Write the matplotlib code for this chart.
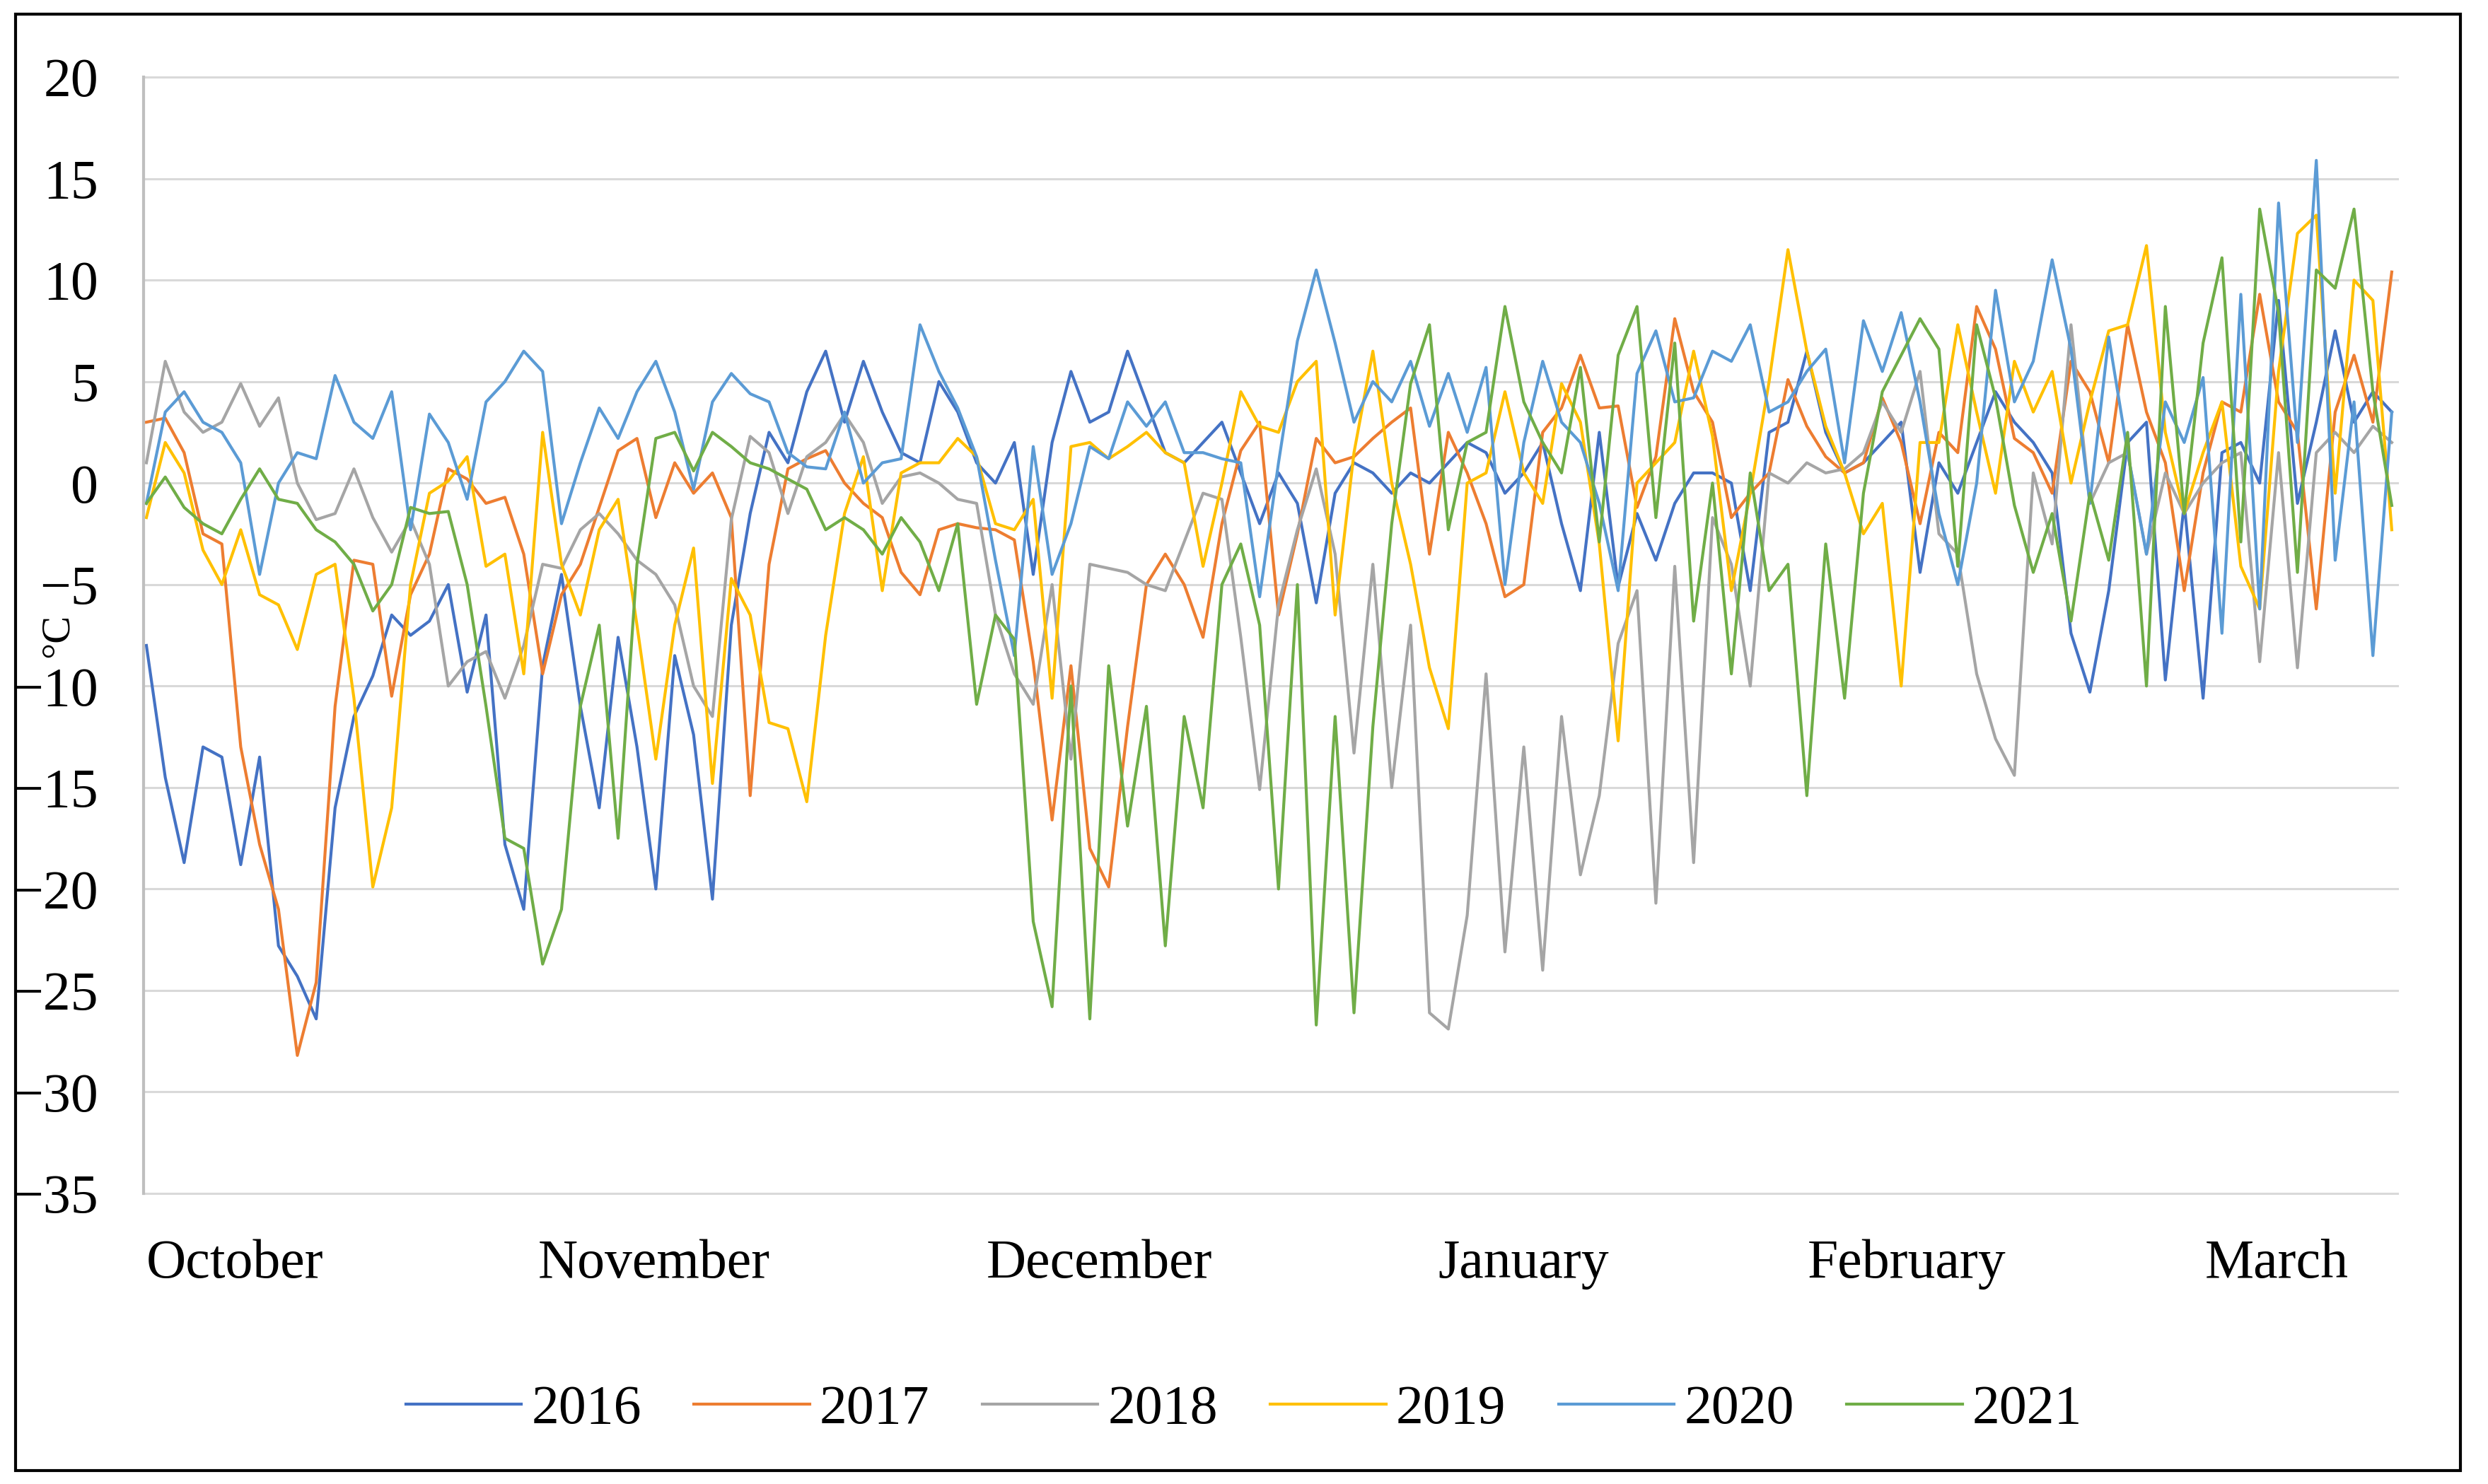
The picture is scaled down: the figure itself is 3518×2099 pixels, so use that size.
import numpy as np
import matplotlib
matplotlib.use('Agg')
import matplotlib.pyplot as plt
from matplotlib.patches import Rectangle

plt.rcParams['font.family'] = ['Liberation Serif', 'DejaVu Serif']

years = ['2016', '2017', '2018', '2019', '2020', '2021']
colors = ['#4472C4', '#ED7D31', '#A5A5A5', '#FFC000', '#5B9BD5', '#70AD47']
months = ['October', 'November', 'December', 'January', 'February', 'March']
month_pos = [4.7, 26.9, 50.5, 73.0, 93.3, 112.9]

# temperature, degC (~1.5 day steps, Oct -> Mar)
y2016 = [-8, -14.5, -18.7, -13, -13.5, -18.8, -13.5, -22.8, -24.3, -26.4,
         -16, -11.5, -9.5, -6.5, -7.5, -6.8, -5, -10.3, -6.5, -17.8,
         -21, -9, -4.5, -11, -16, -7.6, -13, -20, -8.5, -12.4,
         -20.5, -7, -1.5, 2.5, 1, 4.5, 6.5, 3, 6, 3.5,
         1.5, 1, 5, 3.5, 1, 0, 2, -4.5, 2, 5.5,
         3, 3.5, 6.5, 4, 1.5, 1, 2, 3, 0.5, -2,
         0.5, -1, -5.9, -0.5, 1, 0.5, -0.5, 0.5, 0, 1,
         2, 1.5, -0.5, 0.5, 2, -2, -5.3, 2.5, -5.1, -1.5,
         -3.8, -1, 0.5, 0.5, 0, -5.3, 2.5, 3, 6.5, 2.5,
         0.5, 1, 2, 3, -4.4, 1, -0.5, 2, 4.5, 3,
         2, 0.5, -7.4, -10.3, -5.3, 2, 3, -9.7, -1, -10.6,
         1.5, 2, 0, 9, -1, 3, 7.5, 3, 4.5, 3.5]

y2017 = [3, 3.2, 1.5, -2.5, -3, -13, -17.8, -21, -28.2, -24.6,
         -11, -3.8, -4, -10.5, -5.5, -3.5, 0.7, 0.2, -1, -0.7,
         -3.5, -9.4, -5.5, -4, -1.2, 1.6, 2.2, -1.7, 1, -0.5,
         0.5, -1.7, -15.4, -4, 0.7, 1.2, 1.6, 0, -1, -1.7,
         -4.4, -5.5, -2.3, -2, -2.2, -2.3, -2.8, -8.8, -16.6, -9,
         -18, -19.9, -12, -5, -3.5, -5, -7.6, -2, 1.6, 3,
         -6.5, -2.5, 2.2, 1, 1.3, 2.2, 3, 3.7, -3.5, 2.5,
         0.5, -2, -5.6, -5, 2.5, 3.7, 6.3, 3.7, 3.8, -1.2,
         1.3, 8.1, 4.5, 3, -1.7, -0.5, 0.5, 5.1, 2.8, 1.3,
         0.5, 1, 4.2, 2, -2, 2.5, 1.5, 8.7, 6.6, 2.2,
         1.5, -0.5, 6, 4.5, 1, 7.8, 3.5, 1, -5.3, 0.5,
         4, 3.5, 9.3, 4, 2.5, -6.2, 3.5, 6.3, 3, 10.4]

y2018 = [1, 6, 3.5, 2.5, 3, 4.9, 2.8, 4.2, 0, -1.8,
         -1.5, 0.7, -1.7, -3.4, -1.8, -4, -10, -8.8, -8.3, -10.6,
         -8, -4, -4.2, -2.3, -1.5, -2.5, -3.8, -4.5, -6, -10,
         -11.5, -1.8, 2.3, 1.5, -1.5, 1.3, 2, 3.4, 2, -1,
         0.3, 0.5, 0, -0.8, -1, -6.5, -9.4, -10.9, -5, -13.6,
         -4, -4.2, -4.4, -5, -5.3, -2.9, -0.5, -0.8, -7.6, -15.1,
         -6, -2.3, 0.7, -3.5, -13.3, -4, -15, -7, -26.1, -26.9,
         -21.3, -9.4, -23.1, -13, -24, -11.5, -19.3, -15.4, -7.9, -5.3,
         -20.7, -4.1, -18.7, -1.7, -4, -10, 0.5, 0, 1, 0.5,
         0.7, 1.5, 4, 2.5, 5.5, -2.5, -3.5, -9.4, -12.6, -14.4,
         0.5, -3, 7.8, -1, 1, 1.5, -3.5, 0.5, -1.5, 0,
         1, 1.5, -8.8, 1.5, -9.1, 1.5, 2.5, 1.5, 2.8, 2]

y2019 = [-1.7, 2, 0.5, -3.3, -5, -2.3, -5.5, -6, -8.2, -4.5,
         -4, -10.6, -19.9, -16, -5, -0.5, 0.1, 1.3, -4.1, -3.5,
         -9.4, 2.5, -4, -6.5, -2.3, -0.8, -7, -13.6, -7, -3.2,
         -14.8, -4.7, -6.5, -11.8, -12.1, -15.7, -7.5, -1.5, 1.3, -5.3,
         0.5, 1, 1, 2.2, 1.3, -2, -2.3, -0.8, -10.6, 1.8,
         2, 1.2, 1.8, 2.5, 1.5, 1, -4.1, 0, 4.5, 2.8,
         2.5, 5, 6, -6.5, 1.5, 6.5, 0, -4, -9.1, -12.1,
         0, 0.5, 4.5, 0.5, -1, 4.9, 3, -3, -12.7, 0,
         1, 2, 6.5, 2.3, -5.3, -0.5, 5, 11.5, 6.5, 2.8,
         0.5, -2.5, -1, -10, 2, 2, 7.8, 3.5, -0.5, 6,
         3.5, 5.5, 0, 4, 7.5, 7.8, 11.7, 2.5, -1.5, 1.5,
         4, -4.1, -6.2, 5.5, 12.3, 13.2, -0.5, 10, 9, -2.3]

y2020 = [-1, 3.5, 4.5, 3, 2.5, 1, -4.5, 0, 1.5, 1.2,
         5.3, 3, 2.2, 4.5, -2.3, 3.4, 2, -0.8, 4, 5,
         6.5, 5.5, -2, 1, 3.7, 2.2, 4.5, 6, 3.5, -0.3,
         4, 5.4, 4.4, 4, 1.5, 0.8, 0.7, 3.5, 0, 1,
         1.2, 7.8, 5.5, 3.7, 1.3, -3.8, -8.5, 1.8, -4.5, -2,
         1.8, 1.2, 4, 2.8, 4, 1.5, 1.5, 1.2, 1, -5.6,
         1, 7, 10.5, 6.9, 3, 5, 4, 6, 2.8, 5.4,
         2.5, 5.7, -5, 2, 6, 3, 2, -1, -5.3, 5.4,
         7.5, 4, 4.2, 6.5, 6, 7.8, 3.5, 4, 5.5, 6.6,
         1, 8, 5.5, 8.4, 4, -1.5, -5, 0, 9.5, 4,
         6, 11, 6.6, -1, 7.2, 1.5, -3.5, 4, 2, 5.2,
         -7.4, 9.3, -6.2, 13.8, 2, 15.9, -3.8, 4, -8.5, 3.5]

y2021 = [-1, 0.3, -1.2, -2, -2.5, -0.8, 0.7, -0.8, -1, -2.3,
         -2.9, -4, -6.3, -5, -1.2, -1.5, -1.4, -5, -11, -17.5,
         -18, -23.7, -21, -11, -7, -17.5, -4, 2.2, 2.5, 0.6,
         2.5, 1.8, 1, 0.7, 0.2, -0.3, -2.3, -1.7, -2.3, -3.5,
         -1.7, -2.9, -5.3, -2, -10.9, -6.5, -7.7, -21.6, -25.8, -10,
         -26.4, -9, -16.9, -11, -22.8, -11.5, -16, -5, -3, -7,
         -20, -5, -26.7, -11.5, -26.1, -12, -2, 4.9, 7.8, -2.3,
         2, 2.5, 8.7, 4, 2, 0.5, 5.7, -2.9, 6.3, 8.7,
         -1.7, 6.9, -6.8, 0, -9.4, 0.5, -5.3, -4, -15.4, -3,
         -10.6, -0.5, 4.5, 6.3, 8.1, 6.6, -4.1, 7.8, 4.2, -1.1,
         -4.4, -1.5, -6.8, -0.5, -3.8, 2.5, -10, 8.7, -1.5, 6.9,
         11.1, -2.9, 13.5, 8.4, -4.4, 10.5, 9.6, 13.5, 4.5, -1.1]

series = [y2016, y2017, y2018, y2019, y2020, y2021]
x = np.arange(len(y2016))

fig = plt.figure(figsize=(35.18, 20.99), dpi=100)
ax = fig.add_axes([0.0577, 0.1958, 0.9059, 0.7522])

for s, c, yr in zip(series, colors, years):
    ax.plot(x, s, color=c, lw=3, label=yr)

ax.set_xlim(-0.15, 119.3)
ax.set_ylim(-35, 20)
ax.set_yticks(np.arange(-35, 21, 5))
ax.yaxis.grid(True, color='#D9D9D9', lw=2.2)
ax.set_axisbelow(True)
for gl in ax.get_ygridlines():
    gl.set_clip_on(False)
for sp in ['top', 'right', 'bottom']:
    ax.spines[sp].set_visible(False)
ax.spines['left'].set_color('#BFBFBF')
ax.spines['left'].set_linewidth(3)
ax.tick_params(axis='y', length=0, pad=46, labelsize=56)
ax.set_xticks([])

for m, p in zip(months, month_pos):
    ax.text(p, -0.0754, m, transform=ax.get_xaxis_transform(),
            ha='center', va='baseline', fontsize=56)

# unit label squeezed into the gap between the -5 and -10 tick labels
ax.text(-0.0380, 0.4995, '°C', transform=ax.transAxes, rotation=90,
        ha='center', va='center', fontsize=42)

fig.legend(loc='center', bbox_to_anchor=(0.5, 0.05), ncol=6, frameon=False,
           fontsize=56, handlelength=2.1, handletextpad=0.18, columnspacing=0.96)

fig.add_artist(Rectangle((0.00625, 0.0091), 0.98265, 0.9814, transform=fig.transFigure,
                         fill=False, lw=3, ec='black'))

fig.savefig('out.png', dpi=100)
